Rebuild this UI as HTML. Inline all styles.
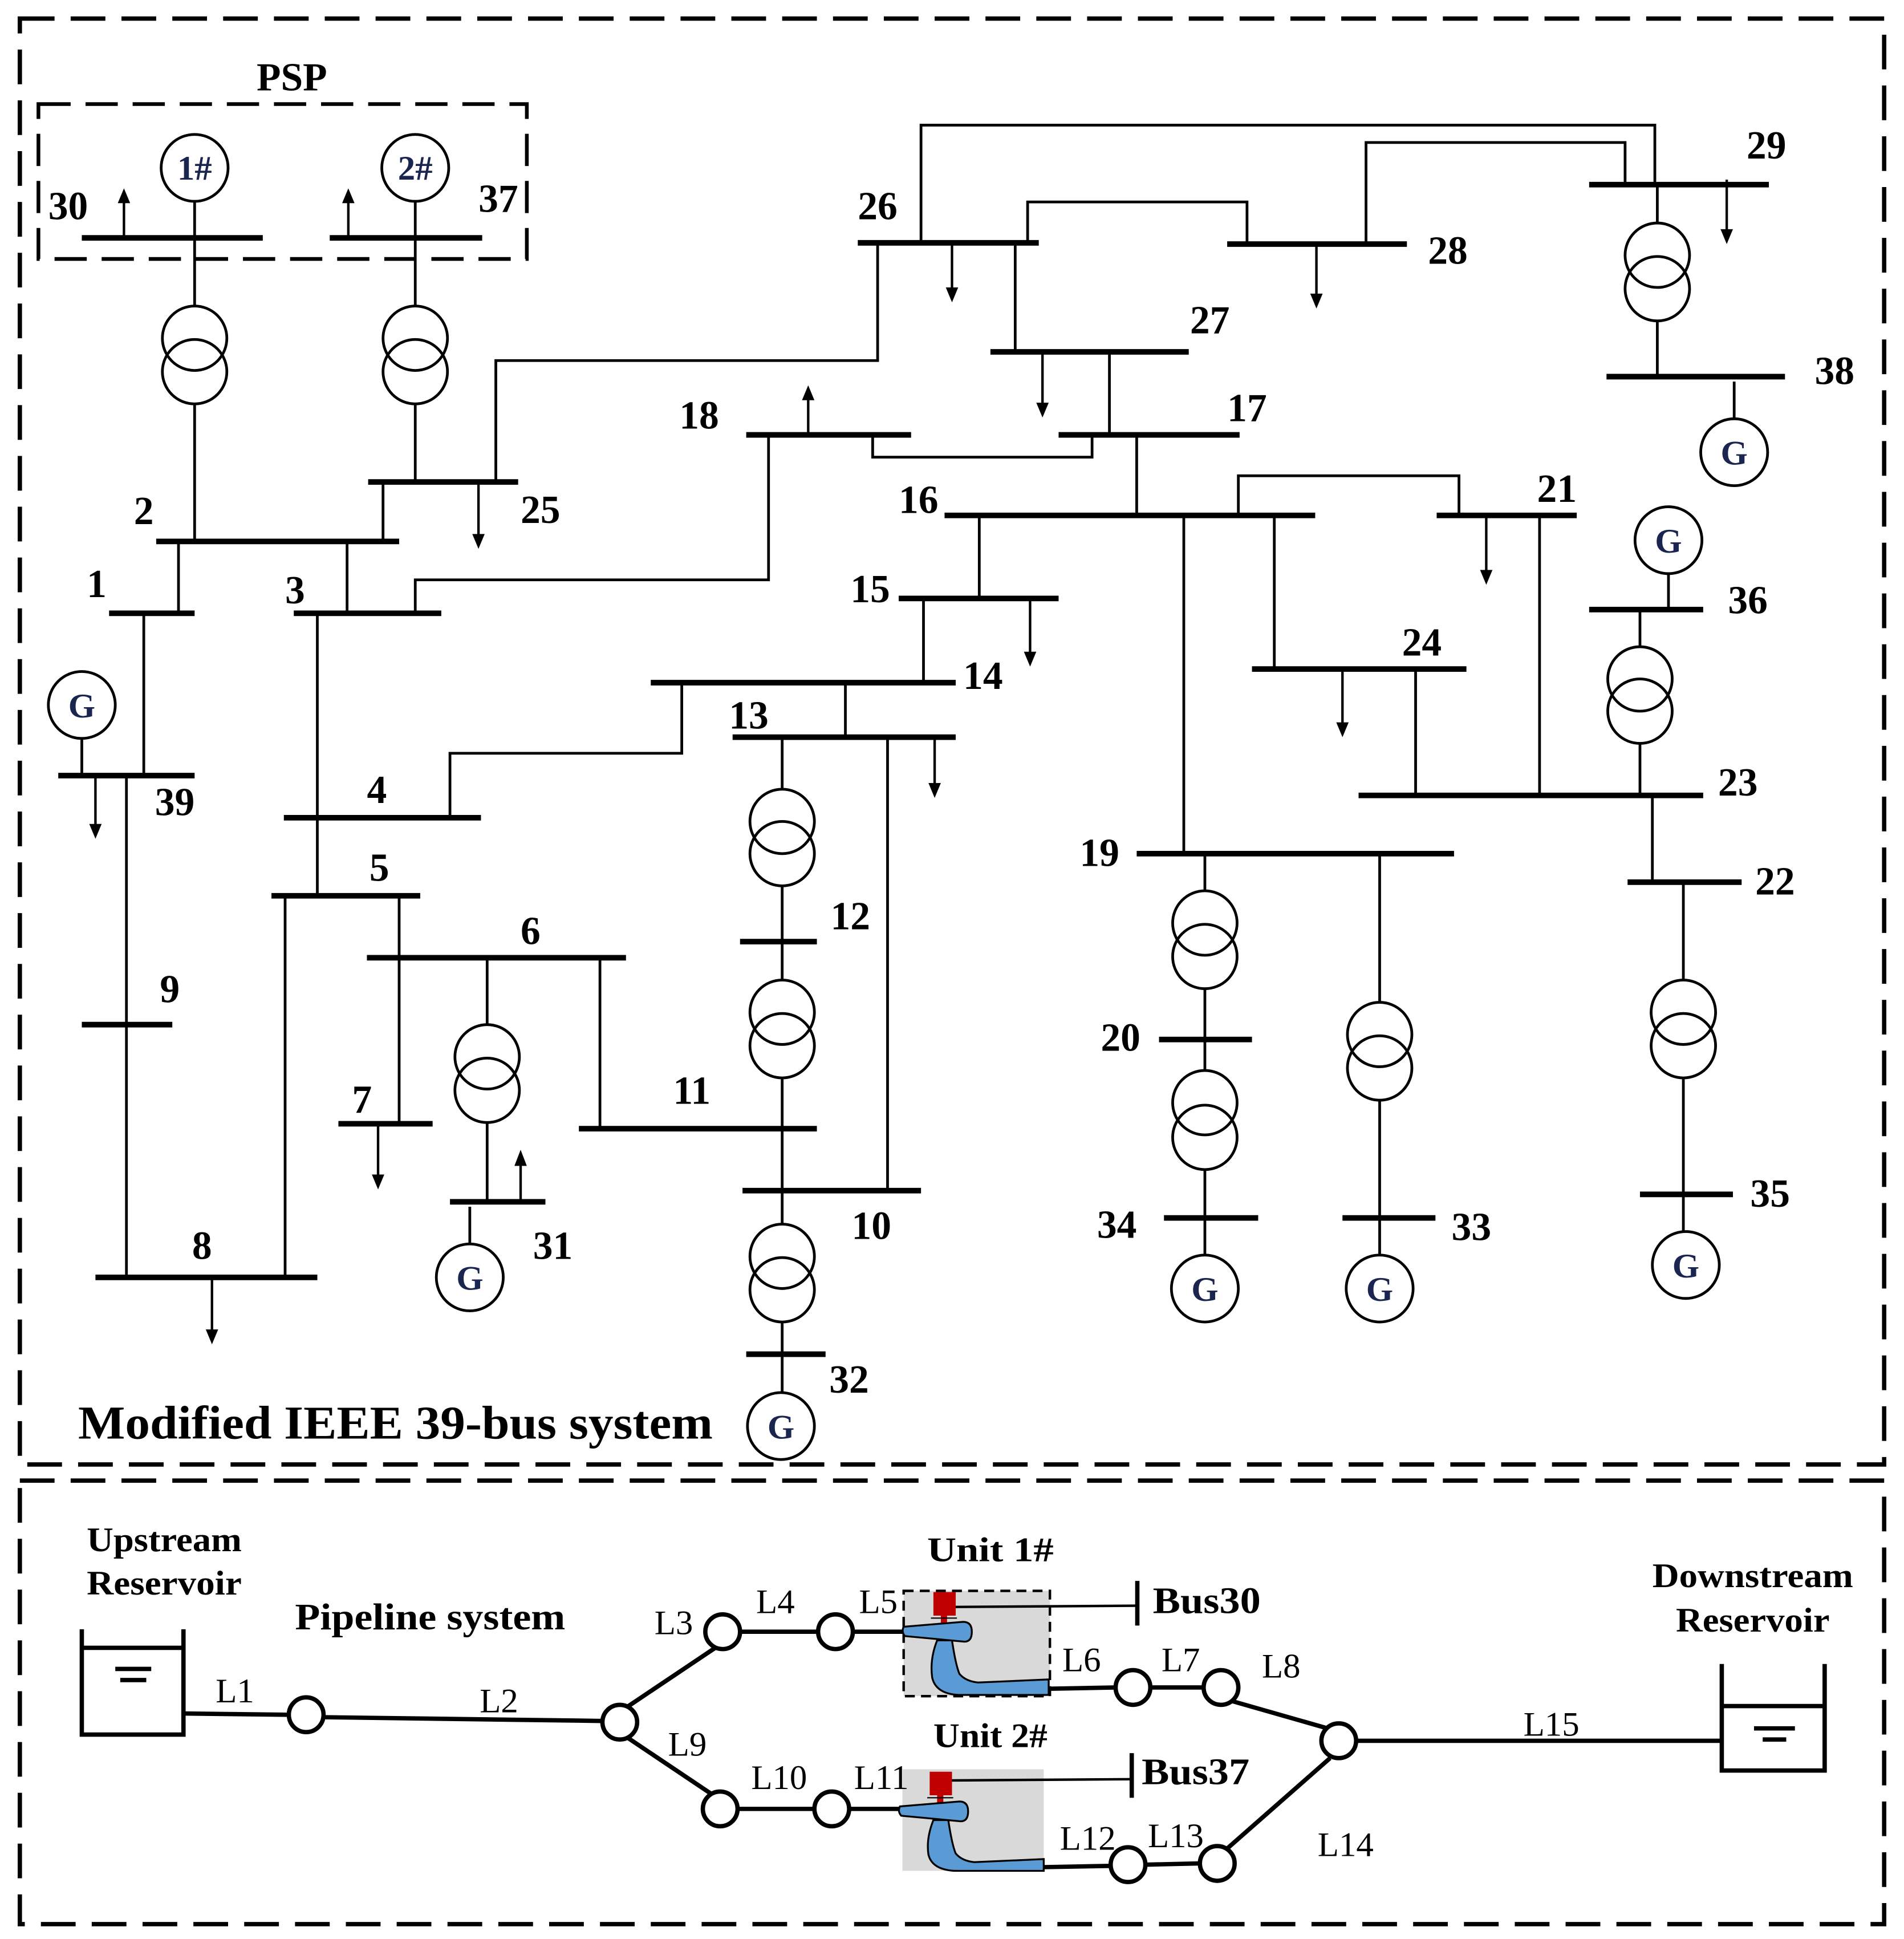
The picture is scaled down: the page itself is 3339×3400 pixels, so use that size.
<!DOCTYPE html>
<html><head><meta charset="utf-8"><style>
html,body{margin:0;padding:0;background:#fff}
svg{display:block}
text{font-family:"Liberation Serif",serif}
.b{font-weight:bold;font-size:32px}
.g{font-weight:bold;font-size:28px;fill:#1a2550}
.l{font-size:28px}
</style></head><body>
<svg width="3339" height="3400" viewBox="0 0 1536 1565" preserveAspectRatio="none" xmlns="http://www.w3.org/2000/svg">
<rect width="1536" height="1565" fill="#fff"/>
<g fill="none" stroke="#000" stroke-width="3.5" stroke-dasharray="28 13">
<rect x="16" y="15" width="1504" height="1167"/>
<rect x="16" y="1195" width="1504" height="358"/>
</g>
<rect x="31" y="84" width="394" height="125" fill="none" stroke="#000" stroke-width="3" stroke-dasharray="26 12"/>

<g stroke="#000" stroke-width="4.5">
<line x1="66" y1="192" x2="212" y2="192"/>
<line x1="266" y1="192" x2="389" y2="192"/>
<line x1="297" y1="389" x2="418" y2="389"/>
<line x1="126" y1="437" x2="322" y2="437"/>
<line x1="88" y1="495" x2="157" y2="495"/>
<line x1="237" y1="495" x2="356" y2="495"/>
<line x1="47" y1="626" x2="157" y2="626"/>
<line x1="66" y1="827" x2="139" y2="827"/>
<line x1="229" y1="660" x2="388" y2="660"/>
<line x1="219" y1="723" x2="339" y2="723"/>
<line x1="296" y1="773" x2="505" y2="773"/>
<line x1="273" y1="907" x2="349" y2="907"/>
<line x1="363" y1="970" x2="440" y2="970"/>
<line x1="77" y1="1031" x2="256" y2="1031"/>
<line x1="467" y1="911" x2="659" y2="911"/>
<line x1="597" y1="760" x2="659" y2="760"/>
<line x1="599" y1="961" x2="743" y2="961"/>
<line x1="602" y1="1093" x2="666" y2="1093"/>
<line x1="591" y1="595" x2="771" y2="595"/>
<line x1="525" y1="551" x2="771" y2="551"/>
<line x1="725" y1="483" x2="854" y2="483"/>
<line x1="602" y1="351" x2="735" y2="351"/>
<line x1="692" y1="196" x2="838" y2="196"/>
<line x1="990" y1="197" x2="1135" y2="197"/>
<line x1="1282" y1="149" x2="1427" y2="149"/>
<line x1="1296" y1="304" x2="1440" y2="304"/>
<line x1="799" y1="284" x2="959" y2="284"/>
<line x1="854" y1="351" x2="1000" y2="351"/>
<line x1="762" y1="416" x2="1061" y2="416"/>
<line x1="1159" y1="416" x2="1272" y2="416"/>
<line x1="1282" y1="492" x2="1374" y2="492"/>
<line x1="1010" y1="540" x2="1183" y2="540"/>
<line x1="1096" y1="642" x2="1374" y2="642"/>
<line x1="1313" y1="712" x2="1405" y2="712"/>
<line x1="1323" y1="964" x2="1398" y2="964"/>
<line x1="917" y1="689" x2="1173" y2="689"/>
<line x1="935" y1="839" x2="1010" y2="839"/>
<line x1="939" y1="983" x2="1015" y2="983"/>
<line x1="1083" y1="983" x2="1158" y2="983"/>
</g>

<g stroke="#000" stroke-width="2.2" fill="none">
<polyline points="157,162 157,247"/><polyline points="157,326 157,437"/>
<polyline points="335,162 335,247"/><polyline points="335,326 335,389"/>
<polyline points="309,389 309,437"/>
<polyline points="400,389 400,291 708,291 708,196"/>
<polyline points="144,437 144,495"/>
<polyline points="280,437 280,495"/>
<polyline points="335,495 335,468 620,468 620,351"/>
<polyline points="116,495 116,626"/>
<polyline points="102,626 102,1031"/>
<polyline points="66,596 66,626"/>
<polyline points="256,495 256,723"/>
<polyline points="363,660 363,608 550,608 550,551"/>
<polyline points="230,723 230,1031"/>
<polyline points="322,723 322,907"/>
<polyline points="393,773 393,827"/><polyline points="393,906 393,970"/>
<polyline points="379,974 379,1004"/>
<polyline points="484,773 484,911"/>
<polyline points="631,595 631,637"/><polyline points="631,715 631,791"/>
<polyline points="631,870 631,988"/><polyline points="631,1067 631,1124"/>
<polyline points="716,595 716,961"/>
<polyline points="682,595 682,551"/>
<polyline points="745,551 745,483"/>
<polyline points="790,483 790,416"/>
<polyline points="704,351 704,369 881,369 881,351"/>
<polyline points="917,416 917,351"/>
<polyline points="895,351 895,284"/>
<polyline points="819,284 819,196"/>
<polyline points="829,196 829,163 1006,163 1006,197"/>
<polyline points="743,196 743,101 1335,101 1335,149"/>
<polyline points="1102,197 1102,115 1311,115 1311,149"/>
<polyline points="1337,149 1337,180"/><polyline points="1337,259 1337,304"/>
<polyline points="1399,308 1399,338"/>
<polyline points="999,416 999,384 1177,384 1177,416"/>
<polyline points="955,416 955,689"/>
<polyline points="1028,416 1028,540"/>
<polyline points="1242,416 1242,642"/>
<polyline points="1142,540 1142,642"/>
<polyline points="1346,463 1346,492"/>
<polyline points="1323,492 1323,522"/><polyline points="1323,600 1323,642"/>
<polyline points="1333,642 1333,712"/>
<polyline points="1358,712 1358,791"/><polyline points="1358,870 1358,994"/>
<polyline points="972,689 972,719"/><polyline points="972,798 972,864"/><polyline points="972,944 972,1013"/>
<polyline points="1113,689 1113,809"/><polyline points="1113,888 1113,1013"/>
</g>

<g stroke="#000" stroke-width="2.2" fill="none">
<circle cx="157" cy="273" r="26"/><circle cx="157" cy="300" r="26"/>
<circle cx="335" cy="273" r="26"/><circle cx="335" cy="300" r="26"/>
<circle cx="1337" cy="206" r="26"/><circle cx="1337" cy="233" r="26"/>
<circle cx="1323" cy="548" r="26"/><circle cx="1323" cy="574" r="26"/>
<circle cx="393" cy="853" r="26"/><circle cx="393" cy="880" r="26"/>
<circle cx="631" cy="663" r="26"/><circle cx="631" cy="689" r="26"/>
<circle cx="631" cy="817" r="26"/><circle cx="631" cy="844" r="26"/>
<circle cx="631" cy="1014" r="26"/><circle cx="631" cy="1041" r="26"/>
<circle cx="972" cy="745" r="26"/><circle cx="972" cy="772" r="26"/>
<circle cx="972" cy="890" r="26"/><circle cx="972" cy="918" r="26"/>
<circle cx="1113" cy="835" r="26"/><circle cx="1113" cy="862" r="26"/>
<circle cx="1358" cy="817" r="26"/><circle cx="1358" cy="844" r="26"/>
<circle cx="157" cy="135.5" r="27"/><circle cx="335" cy="135.5" r="27"/>
<circle cx="66" cy="569" r="27"/>
<circle cx="379" cy="1031" r="27"/>
<circle cx="630" cy="1151" r="27"/>
<circle cx="1399" cy="365" r="27"/>
<circle cx="1346" cy="436" r="27"/>
<circle cx="972" cy="1040" r="27"/>
<circle cx="1113" cy="1040" r="27"/>
<circle cx="1360" cy="1021" r="27"/>
</g>
<g class="g" text-anchor="middle">
<text x="157" y="145">1#</text><text x="335" y="145">2#</text>
<text x="66" y="579">G</text><text x="379" y="1041">G</text><text x="630" y="1161">G</text>
<text x="1399" y="375">G</text><text x="1346" y="446">G</text><text x="972" y="1050">G</text>
<text x="1113" y="1050">G</text><text x="1360" y="1031">G</text>
</g>

<g stroke="#000" stroke-width="2">
<line x1="100" y1="192" x2="100" y2="162"/><line x1="281" y1="192" x2="281" y2="162"/>
<line x1="386" y1="389" x2="386" y2="432"/>
<line x1="77" y1="626" x2="77" y2="666"/>
<line x1="305" y1="907" x2="305" y2="949"/>
<line x1="420" y1="970" x2="420" y2="940"/>
<line x1="171" y1="1031" x2="171" y2="1074"/>
<line x1="754" y1="595" x2="754" y2="633"/>
<line x1="831" y1="483" x2="831" y2="527"/>
<line x1="652" y1="351" x2="652" y2="322"/>
<line x1="768" y1="196" x2="768" y2="233"/>
<line x1="841" y1="284" x2="841" y2="326"/>
<line x1="1062" y1="197" x2="1062" y2="238"/>
<line x1="1393" y1="145" x2="1393" y2="186"/>
<line x1="1199" y1="416" x2="1199" y2="461"/>
<line x1="1083" y1="540" x2="1083" y2="584"/>
</g>
<g fill="#000">
<polygon points="95,164 105,164 100,152"/><polygon points="276,164 286,164 281,152"/>
<polygon points="381,431 391,431 386,443"/>
<polygon points="72,665 82,665 77,677"/>
<polygon points="300,948 310,948 305,960"/>
<polygon points="415,941 425,941 420,928"/>
<polygon points="166,1073 176,1073 171,1085"/>
<polygon points="749,632 759,632 754,644"/>
<polygon points="826,526 836,526 831,538"/>
<polygon points="647,323 657,323 652,311"/>
<polygon points="763,232 773,232 768,244"/>
<polygon points="836,325 846,325 841,337"/>
<polygon points="1057,237 1067,237 1062,249"/>
<polygon points="1388,185 1398,185 1393,197"/>
<polygon points="1194,460 1204,460 1199,472"/>
<polygon points="1078,583 1088,583 1083,595"/>
</g>

<g class="b">
<text x="207" y="73">PSP</text>
<text x="39" y="177">30</text><text x="386" y="171">37</text>
<text x="420" y="422">25</text><text x="108" y="423">2</text><text x="70" y="482">1</text>
<text x="230" y="487">3</text><text x="125" y="658">39</text><text x="129" y="809">9</text>
<text x="296" y="648">4</text><text x="298" y="711">5</text><text x="420" y="762">6</text>
<text x="284" y="898">7</text><text x="430" y="1016">31</text><text x="155" y="1016">8</text>
<text x="543" y="891">11</text><text x="670" y="750">12</text><text x="687" y="1000">10</text>
<text x="669" y="1124">32</text><text x="588" y="588">13</text><text x="777" y="556">14</text>
<text x="686" y="486">15</text><text x="725" y="414">16</text><text x="548" y="346">18</text>
<text x="692" y="177">26</text><text x="960" y="269">27</text><text x="990" y="340">17</text>
<text x="1152" y="213">28</text><text x="1409" y="128">29</text><text x="1464" y="310">38</text>
<text x="1240" y="405">21</text><text x="1394" y="495">36</text><text x="1131" y="529">24</text>
<text x="1386" y="642">23</text><text x="1416" y="722">22</text><text x="1412" y="974">35</text>
<text x="871" y="699">19</text><text x="888" y="848">20</text><text x="885" y="999">34</text>
<text x="1171" y="1001">33</text>
<text x="63" y="1161" font-size="38" textLength="512" lengthAdjust="spacingAndGlyphs">Modified IEEE 39-bus system</text>
</g>

<g class="b" style="font-size:28px">
<text x="70" y="1252" textLength="125" lengthAdjust="spacingAndGlyphs">Upstream</text>
<text x="70" y="1287" textLength="125" lengthAdjust="spacingAndGlyphs">Reservoir</text>
<text x="238" y="1315" font-size="30" textLength="218" lengthAdjust="spacingAndGlyphs">Pipeline system</text>
<text x="748" y="1260" textLength="102" lengthAdjust="spacingAndGlyphs">Unit 1#</text>
<text x="753" y="1410" textLength="92" lengthAdjust="spacingAndGlyphs">Unit 2#</text>
<text x="930" y="1302" font-size="30" textLength="87" lengthAdjust="spacingAndGlyphs">Bus30</text>
<text x="921" y="1440" font-size="30" textLength="87" lengthAdjust="spacingAndGlyphs">Bus37</text>
<text x="1333" y="1281" textLength="162" lengthAdjust="spacingAndGlyphs">Downstream</text>
<text x="1352" y="1317" textLength="124" lengthAdjust="spacingAndGlyphs">Reservoir</text>
</g>

<g stroke="#000" stroke-width="3.5" fill="none">
<polyline points="66,1315 66,1400 148,1400 148,1315"/>
<line x1="66" y1="1330" x2="148" y2="1330"/>
<polyline points="1389,1343 1389,1429 1472,1429 1472,1343"/>
<line x1="1389" y1="1377" x2="1472" y2="1377"/>
</g>
<g stroke="#000" stroke-width="3.5">
<line x1="93" y1="1347" x2="122" y2="1347"/><line x1="97" y1="1356" x2="118" y2="1356"/>
<line x1="1415" y1="1395" x2="1448" y2="1395"/><line x1="1422" y1="1404" x2="1441" y2="1404"/>
</g>

<g stroke="#000" stroke-width="3.5" fill="none">
<line x1="148" y1="1383" x2="233" y2="1384"/>
<line x1="262" y1="1386" x2="486" y2="1389"/>
<line x1="507" y1="1377" x2="577" y2="1330"/>
<line x1="507" y1="1403" x2="574" y2="1448"/>
<line x1="597" y1="1317" x2="660" y2="1317"/>
<line x1="688" y1="1317" x2="729" y2="1317"/>
<line x1="595" y1="1460" x2="657" y2="1460"/>
<line x1="685" y1="1460" x2="726" y2="1460"/>
<line x1="846" y1="1363" x2="900" y2="1362"/>
<line x1="928" y1="1362" x2="971" y2="1362"/>
<line x1="994" y1="1373" x2="1071" y2="1395"/>
<line x1="842" y1="1507" x2="896" y2="1506"/>
<line x1="924" y1="1505" x2="968" y2="1504"/>
<line x1="990" y1="1492" x2="1073" y2="1419"/>
<line x1="1094" y1="1405" x2="1389" y2="1405"/>
<circle cx="247" cy="1384" r="14"/><circle cx="500" cy="1390" r="14"/>
<circle cx="583" cy="1317" r="14"/><circle cx="674" cy="1317" r="14"/>
<circle cx="581" cy="1460" r="14"/><circle cx="671" cy="1460" r="14"/>
<circle cx="914" cy="1362" r="14"/><circle cx="985" cy="1362" r="14"/>
<circle cx="1080" cy="1405" r="14"/>
<circle cx="910" cy="1505" r="14"/><circle cx="982" cy="1504" r="14"/>
</g>

<rect x="729" y="1284" width="118" height="85" fill="#d9d9d9" stroke="#000" stroke-width="2" stroke-dasharray="8 5"/>
<rect x="728" y="1428" width="114" height="82" fill="#d9d9d9"/>
<g stroke="#000" stroke-width="2">
<line x1="771" y1="1297" x2="917" y2="1296"/>
<line x1="768" y1="1437" x2="913" y2="1436"/>
</g>
<g stroke="#000" stroke-width="3.5">
<line x1="917.5" y1="1276" x2="917.5" y2="1312"/>
<line x1="913" y1="1415" x2="913" y2="1451"/>
</g>
<g transform="translate(729,1284)">
<rect x="24" y="1" width="18" height="19" fill="#c00000"/>
<rect x="30" y="20" width="5" height="6" fill="#c00000"/>
<line x1="22" y1="22" x2="43" y2="22" stroke="#000" stroke-width="1"/>
<path d="M27,40 L39,40 Q42,60 45,67 Q50,73 60,74 L117,71.5 L117,84 L44,84 Q26,83 23,70 Q21,55 27,40 Z" fill="#5b9bd5" stroke="#000" stroke-width="1.5"/>
<path d="M0,29 L48,25 Q55,25 55,33 Q55,41 49,41 L1,36.5 Q-2,33 0,29 Z" fill="#5b9bd5" stroke="#000" stroke-width="1.5"/>
</g>
<g transform="translate(726,1429)">
<rect x="24" y="1" width="18" height="19" fill="#c00000"/>
<rect x="30" y="20" width="5" height="6" fill="#c00000"/>
<line x1="22" y1="22" x2="43" y2="22" stroke="#000" stroke-width="1"/>
<path d="M27,40 L39,40 Q42,60 45,67 Q50,73 60,74 L116,71.5 L116,81 L44,81 Q26,80 23,68 Q21,55 27,40 Z" fill="#5b9bd5" stroke="#000" stroke-width="1.5"/>
<path d="M0,29 L48,25 Q55,25 55,33 Q55,41 49,41 L1,36.5 Q-2,33 0,29 Z" fill="#5b9bd5" stroke="#000" stroke-width="1.5"/>
</g>

<g class="l">
<text x="174" y="1374">L1</text><text x="387" y="1382">L2</text><text x="528" y="1319">L3</text>
<text x="610" y="1302">L4</text><text x="693" y="1302">L5</text><text x="857" y="1349">L6</text>
<text x="937" y="1349">L7</text><text x="1018" y="1354">L8</text><text x="539" y="1417">L9</text>
<text x="606" y="1444">L10</text><text x="689" y="1444">L11</text><text x="855" y="1493">L12</text>
<text x="926" y="1491">L13</text><text x="1063" y="1498">L14</text><text x="1229" y="1401">L15</text>
</g>
</svg>
</body></html>
